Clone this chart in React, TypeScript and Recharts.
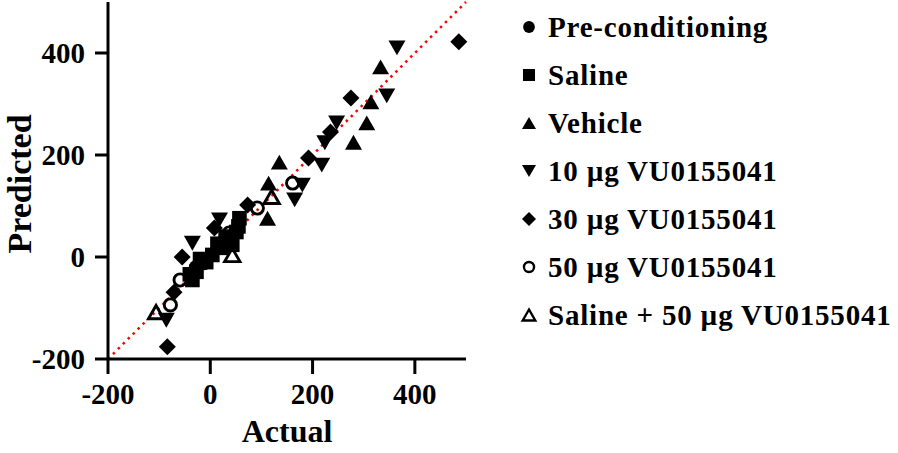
import { ScatterChart, Scatter, XAxis, YAxis, ReferenceLine } from 'recharts';

const SERIF = "'Liberation Serif', 'Times New Roman', serif";

// [actual, predicted] pairs
const preConditioning = [[38, 36], [22, 28], [-12, -12], [-28, -20]];
const saline = [
  [57, 76], [51, 49], [43, 24], [24, 18], [4, 4], [-8, -10], [-27, -29],
  [-35, -45], [55, 60], [30, 40], [-20, -4], [14, 26], [-40, -34]
];
const vehicle = [[333, 373], [314, 304], [306, 263], [280, 225], [135, 186], [114, 145], [112, 76]];
const vu10 = [
  [365, 410], [345, 316], [247, 263], [224, 224], [218, 180], [180, 141],
  [165, 112], [18, 73], [-35, 27], [-86, -124]
];
const vu30 = [
  [486, 422], [275, 312], [235, 245], [192, 194], [73, 102], [8, 57],
  [-55, 0], [-71, -69], [-84, -176]
];
const vu50 = [[161, 145], [92, 96], [37, 47], [-59, -45], [-78, -94]];
const salineVu50 = [[120, 118], [43, 4], [-106, -108]];

const axisTicks = [-200, 0, 200, 400];

type Kind = 'circle' | 'square' | 'up' | 'down' | 'diamond' | 'openCircle' | 'openUp';

const series: { name: string; kind: Kind; pts: number[][] }[] = [
  { name: 'Pre-conditioning', kind: 'circle', pts: preConditioning },
  { name: 'Saline', kind: 'square', pts: saline },
  { name: 'Vehicle', kind: 'up', pts: vehicle },
  { name: '10 µg VU0155041', kind: 'down', pts: vu10 },
  { name: '30 µg VU0155041', kind: 'diamond', pts: vu30 },
  { name: '50 µg VU0155041', kind: 'openCircle', pts: vu50 },
  { name: 'Saline + 50 µg VU0155041', kind: 'openUp', pts: salineVu50 }
];

function Marker({ kind, cx, cy, s }: { kind: Kind; cx: number; cy: number; s: number }) {
  const h = s * 0.87;
  switch (kind) {
    case 'circle':
      return <circle cx={cx} cy={cy} r={s * 0.42} fill="#000" />;
    case 'square':
      return <rect x={cx - s * 0.43} y={cy - s * 0.43} width={s * 0.86} height={s * 0.86} fill="#000" />;
    case 'up':
      return <polygon points={`${cx},${cy - h / 2} ${cx + s / 2},${cy + h / 2} ${cx - s / 2},${cy + h / 2}`} fill="#000" />;
    case 'down':
      return <polygon points={`${cx - s / 2},${cy - h / 2} ${cx + s / 2},${cy - h / 2} ${cx},${cy + h / 2}`} fill="#000" />;
    case 'diamond':
      return <polygon points={`${cx},${cy - s / 2} ${cx + s / 2},${cy} ${cx},${cy + s / 2} ${cx - s / 2},${cy}`} fill="#000" />;
    case 'openCircle':
      return <circle cx={cx} cy={cy} r={s * 0.36} fill="none" stroke="#000" strokeWidth={s * 0.17} />;
    case 'openUp': {
      const t = s * 0.9;
      const k = t * 0.87;
      return (
        <polygon
          points={`${cx},${cy - k / 2} ${cx + t / 2},${cy + k / 2} ${cx - t / 2},${cy + k / 2}`}
          fill="none"
          stroke="#000"
          strokeWidth={s * 0.17}
        />
      );
    }
  }
  return null;
}

const tickStyle = { fill: '#000', fontSize: 29, fontWeight: 'bold', fontFamily: SERIF };

export default function App() {
  return (
    <div style={{ position: 'relative', width: 898, height: 453, background: '#fff' }}>
      <style>{'body{margin:0}'}</style>
      <ScatterChart width={898} height={453} margin={{ top: 2, right: 432, bottom: 0, left: 0 }}>
        <XAxis
          type="number"
          dataKey="x"
          domain={[-200, 500]}
          ticks={axisTicks}
          height={94}
          axisLine={{ stroke: '#000', strokeWidth: 3 }}
          tickLine={{ stroke: '#000', strokeWidth: 3 }}
          tickSize={15}
          tickMargin={9}
          tick={tickStyle}
          label={{
            value: 'Actual',
            position: 'insideBottom',
            offset: 11,
            style: { fill: '#000', fontSize: 32, fontWeight: 'bold', fontFamily: SERIF }
          }}
        />
        <YAxis
          type="number"
          dataKey="y"
          domain={[-200, 500]}
          ticks={axisTicks}
          width={108}
          axisLine={{ stroke: '#000', strokeWidth: 3 }}
          tickLine={{ stroke: '#000', strokeWidth: 3 }}
          tickSize={13}
          tickMargin={10}
          tick={tickStyle}
          label={{
            content: () => (
              <text
                x={31}
                y={184}
                transform="rotate(-90 31 184)"
                textAnchor="middle"
                fill="#000"
                fontSize={34}
                fontWeight="bold"
                fontFamily={SERIF}
              >
                Predicted
              </text>
            )
          }}
        />
        {series.map((s) => (
          <Scatter
            key={s.name}
            name={s.name}
            data={s.pts.map(([x, y]) => ({ x, y }))}
            isAnimationActive={false}
            shape={(p: any) => <Marker kind={s.kind} cx={p.cx} cy={p.cy} s={17} />}
          />
        ))}
        <ReferenceLine
          segment={[{ x: -200, y: -200 }, { x: 500, y: 500 }]}
          stroke="#ff0000"
          strokeWidth={2.5}
          strokeDasharray="2.5 4.5"
          ifOverflow="visible"
        />
      </ScatterChart>
      <div
        style={{
          position: 'absolute',
          left: 518,
          top: 3,
          fontFamily: SERIF,
          fontWeight: 'bold',
          fontSize: 29,
          letterSpacing: 0.8,
          color: '#000'
        }}
      >
        {series.map((s) => (
          <div key={s.name} style={{ height: 48, display: 'flex', alignItems: 'center', whiteSpace: 'nowrap' }}>
            <svg width={22} height={22} style={{ marginRight: 8 }}>
              <Marker kind={s.kind} cx={11} cy={11} s={14} />
            </svg>
            <span>{s.name}</span>
          </div>
        ))}
      </div>
    </div>
  );
}
